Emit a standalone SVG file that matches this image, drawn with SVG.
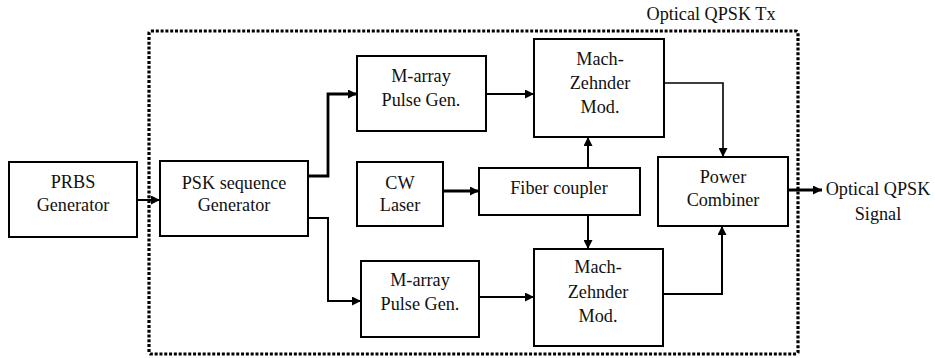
<svg xmlns="http://www.w3.org/2000/svg" width="935" height="358" viewBox="0 0 935 358">
  <style>
    .box { fill: #fff; stroke: #000; stroke-width: 2; }
    .lbl { font-size: 18.2px; fill: #111; text-anchor: middle; }
    .wire { fill: none; stroke: #000; stroke-width: 2; }
    .thick { stroke-width: 2.8; }
    .thin { stroke-width: 1.6; }
  </style>
  <defs>
    <marker id="arrow" viewBox="0 0 10 10" refX="10" refY="5" markerWidth="10" markerHeight="9" markerUnits="userSpaceOnUse" orient="auto">
      <path d="M0,0 L10,5 L0,10 Z" fill="#000"/>
    </marker>
  </defs>
  <rect width="935" height="358" fill="#fff"/>

  <g font-family="'Liberation Serif', 'DejaVu Serif', serif">
  <!-- transmitter boundary -->
  <g id="tx-boundary">
    <rect x="149" y="31" width="649" height="323" rx="2" fill="none" stroke="#000" stroke-width="3.2" stroke-dasharray="3 1.8"/>
    <text class="lbl" x="711" y="20">Optical QPSK Tx</text>
  </g>

  <g id="connectors">
    <path class="wire" d="M137,200 H160" marker-end="url(#arrow)"/>
    <path class="wire thick" d="M308,176 H328 V94 H357" marker-end="url(#arrow)"/>
    <path class="wire" d="M308,218 H328 V301 H361" marker-end="url(#arrow)"/>
    <path class="wire" d="M486,94 H534" marker-end="url(#arrow)"/>
    <path class="wire thick" d="M443,191 H479" marker-end="url(#arrow)"/>
    <path class="wire" d="M588,168 V137" marker-end="url(#arrow)"/>
    <path class="wire" d="M588,215 V249" marker-end="url(#arrow)"/>
    <path class="wire" d="M479,297 H534" marker-end="url(#arrow)"/>
    <path class="wire thin" d="M664,83 H723 V157" marker-end="url(#arrow)"/>
    <path class="wire" d="M663,294 H722 V226" marker-end="url(#arrow)"/>
    <path class="wire thick" d="M788,190 H822" marker-end="url(#arrow)"/>
  </g>

  <g id="prbs">
    <rect class="box" x="9" y="162" width="128" height="75"/>
    <text class="lbl" x="73" y="188">PRBS</text>
    <text class="lbl" x="73" y="211">Generator</text>
  </g>

  <g id="psk-seq">
    <rect class="box" x="160" y="161" width="148" height="75"/>
    <text class="lbl" x="234" y="189">PSK sequence</text>
    <text class="lbl" x="234" y="211">Generator</text>
  </g>

  <g id="pulse-top">
    <rect class="box" x="357" y="56" width="129" height="75"/>
    <text class="lbl" x="421" y="82">M-array</text>
    <text class="lbl" x="421" y="106">Pulse Gen.</text>
  </g>

  <g id="cw-laser">
    <rect class="box" x="357" y="162" width="86" height="64"/>
    <text class="lbl" x="400" y="189">CW</text>
    <text class="lbl" x="400" y="211">Laser</text>
  </g>

  <g id="fiber-coupler">
    <rect class="box" x="479" y="168" width="161" height="47"/>
    <text class="lbl" x="559" y="194">Fiber coupler</text>
  </g>

  <g id="mzm-top">
    <rect class="box" x="534" y="39" width="130" height="98"/>
    <text class="lbl" x="600" y="65">Mach-</text>
    <text class="lbl" x="600" y="89">Zehnder</text>
    <text class="lbl" x="600" y="113">Mod.</text>
  </g>

  <g id="power-combiner">
    <rect class="box" x="658" y="157" width="130" height="69"/>
    <text class="lbl" x="723" y="183">Power</text>
    <text class="lbl" x="723" y="206">Combiner</text>
  </g>

  <g id="pulse-bottom">
    <rect class="box" x="361" y="261" width="118" height="76"/>
    <text class="lbl" x="420" y="286">M-array</text>
    <text class="lbl" x="420" y="310">Pulse Gen.</text>
  </g>

  <g id="mzm-bottom">
    <rect class="box" x="534" y="249" width="129" height="97"/>
    <text class="lbl" x="598" y="273">Mach-</text>
    <text class="lbl" x="598" y="298">Zehnder</text>
    <text class="lbl" x="598" y="322">Mod.</text>
  </g>

  <g id="output-label">
    <text class="lbl" x="878" y="195">Optical QPSK</text>
    <text class="lbl" x="878" y="220">Signal</text>
  </g>
  </g>
</svg>
